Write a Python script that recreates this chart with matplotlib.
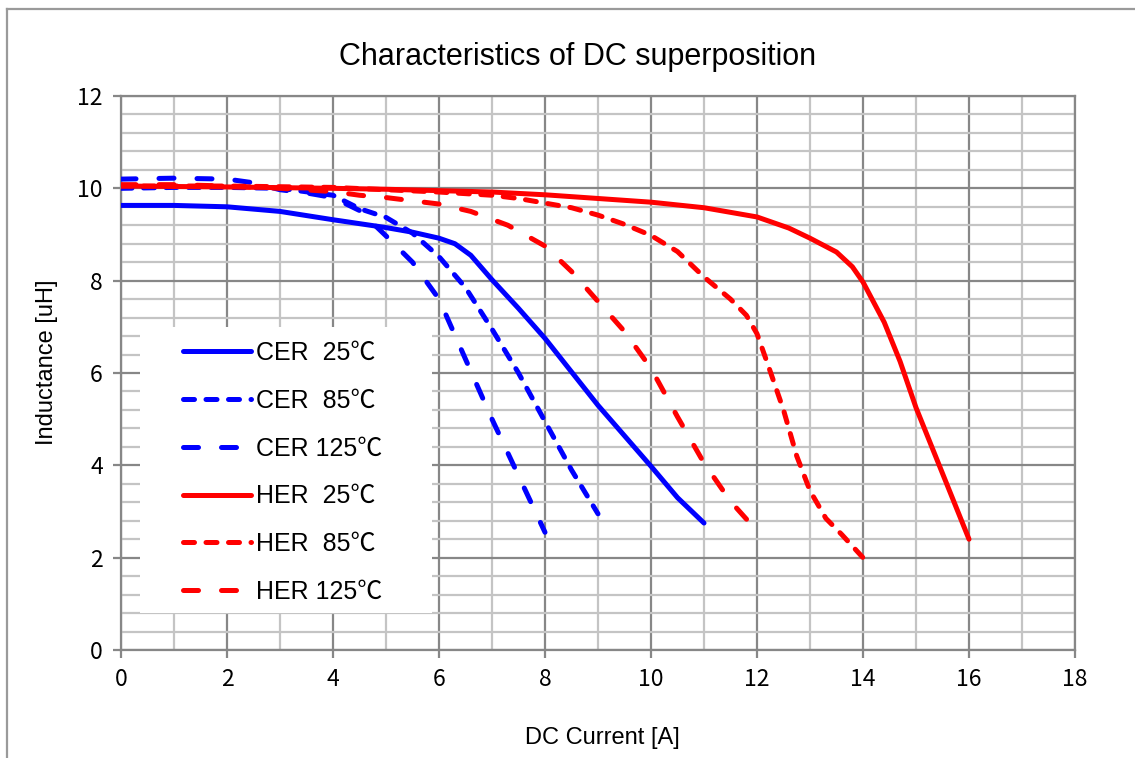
import matplotlib
matplotlib.use("Agg")
import matplotlib.pyplot as plt
from matplotlib.lines import Line2D
from matplotlib.patches import Rectangle
import numpy as np

# ---- data ----
cer25_x = [0, 1, 2, 3, 4, 5, 5.5, 6, 6.3, 6.6, 7, 7.5, 8, 9, 10, 10.5, 11]
cer25_y = [9.63, 9.63, 9.6, 9.5, 9.32, 9.15, 9.05, 8.92, 8.8, 8.55, 8.02, 7.4, 6.75, 5.3, 3.98, 3.3, 2.75]

cer85_x = [0, 1, 2, 3, 4, 4.5, 5, 5.5, 6, 6.5, 7, 7.5, 8, 8.5, 9]
cer85_y = [10.0, 10.02, 10.02, 10.0, 9.85, 9.56, 9.37, 9.03, 8.52, 7.85, 6.95, 6.0, 4.95, 3.9, 2.95]

cer125_x = [0, 1, 2, 2.5, 3, 3.5, 4, 4.5, 5, 5.5, 6, 7, 8]
cer125_y = [10.2, 10.22, 10.2, 10.12, 9.97, 9.9, 9.8, 9.52, 8.97, 8.4, 7.6, 5.0, 2.55]

her25_x = [0, 2, 4, 5, 6, 7, 8, 9, 10, 11, 12, 12.6, 13, 13.5, 13.8, 14, 14.4, 14.7, 15, 16]
her25_y = [10.05, 10.03, 10.0, 9.98, 9.95, 9.92, 9.86, 9.78, 9.7, 9.58, 9.38, 9.14, 8.92, 8.62, 8.3, 7.97, 7.1, 6.25, 5.25, 2.4]

her85_x = [0, 2, 4, 5, 6, 7, 7.5, 8, 8.5, 9, 9.5, 10, 10.5, 11, 11.5, 11.8, 12, 12.2, 12.5, 12.75, 13, 13.3, 13.6, 14]
her85_y = [10.05, 10.05, 10.02, 9.97, 9.92, 9.85, 9.78, 9.68, 9.58, 9.42, 9.22, 8.98, 8.63, 8.08, 7.6, 7.25, 6.85, 6.2, 5.2, 4.2, 3.45, 2.85, 2.5, 2.0]

her125_x = [0, 1, 2, 3, 4, 4.5, 5, 6, 6.6, 7.3, 8, 8.5, 9, 9.5, 10, 10.5, 11, 11.5, 12]
her125_y = [10.08, 10.08, 10.05, 10.0, 9.93, 9.85, 9.8, 9.66, 9.5, 9.2, 8.75, 8.2, 7.55, 6.9, 6.1, 5.05, 4.05, 3.22, 2.58]

labels = ["CER  25\u2103", "CER  85\u2103", "CER 125\u2103",
          "HER  25\u2103", "HER  85\u2103", "HER 125\u2103"]

x_ticks = [0, 2, 4, 6, 8, 10, 12, 14, 16, 18]
y_ticks = [0, 2, 4, 6, 8, 10, 12]

title = "Characteristics of DC superposition"
xlabel = "DC Current [A]"
ylabel = "Inductance [uH]"

# ---- styles ----
BLUE = "#0000ff"
RED = "#ff0000"
LW = 3.6
solid = None
short_dash = (2.2, 2.3)
long_dash = (3.0, 4.6)

series = [
    (cer25_x, cer25_y, BLUE, solid),
    (cer85_x, cer85_y, BLUE, short_dash),
    (cer125_x, cer125_y, BLUE, long_dash),
    (her25_x, her25_y, RED, solid),
    (her85_x, her85_y, RED, short_dash),
    (her125_x, her125_y, RED, long_dash),
]

TXT = ["Liberation Sans", "Noto Sans CJK JP", "DejaVu Sans"]
TICKF = "Noto Sans CJK JP"

fig = plt.figure(figsize=(11.35, 7.58), dpi=100)
ax = fig.add_axes([121/1135, 1-650/758, (1075-121)/1135, (650-96)/758])

ax.set_xlim(0, 18)
ax.set_ylim(0, 12)
ax.set_xticks(x_ticks)
ax.set_yticks(y_ticks)
ax.set_xticks(np.arange(0, 18.01, 1), minor=True)
ax.set_yticks(np.arange(0, 12.01, 0.4), minor=True)

MAJ = "#878787"
MIN = "#c4c4c4"
ax.grid(which="minor", color=MIN, lw=1.6, zorder=0)
ax.grid(which="major", color=MAJ, lw=1.6, zorder=0.5)
ax.set_axisbelow(True)
for s in ax.spines.values():
    s.set_color(MAJ)
    s.set_linewidth(1.6)
ax.tick_params(which="major", direction="out", length=6, width=1.6, color=MAJ, pad=7,
               labelsize=16.5, labelfontfamily=TICKF)
ax.tick_params(which="minor", length=0)

handles = []
for (xs, ys, c, d), lab in zip(series, labels):
    ln, = ax.plot(xs, ys, color=c, lw=LW, solid_capstyle="round", dash_capstyle="round",
                  solid_joinstyle="round", zorder=3, label=lab)
    if d is not None:
        ln.set_dashes(d)
    handles.append(ln)

# legend background
ax.add_patch(Rectangle(((140-121)/954, (650-613)/554), 292/954, 286/554,
                       transform=ax.transAxes, facecolor="white", edgecolor="none", zorder=2))
leg = ax.legend(handles=handles, loc="upper left",
                bbox_to_anchor=((183-121)/954, (650-341)/554),
                frameon=False, borderpad=0, borderaxespad=0,
                handlelength=2.72, handletextpad=0.2, labelspacing=0.95,
                prop={"family": TXT, "size": 18})
leg.set_zorder(4)

fig.text(578/1135, 1-57/758, title, ha="center", va="center", fontsize=22, family=TXT)
fig.text(602/1135, 1-738/758, xlabel, ha="center", va="center", fontsize=17, family=TXT)
fig.text(47/1135, 1-362/758, ylabel, ha="center", va="center", fontsize=17, family=TXT, rotation=90)

# outer chart frame (cropped at right/bottom)
fig.add_artist(Line2D([6.5/1135, 6.5/1135], [1-9/758, 0], transform=fig.transFigure, color="#9a9a9a", lw=1.6))
fig.add_artist(Line2D([6.5/1135, 1], [1-9/758, 1-9/758], transform=fig.transFigure, color="#9a9a9a", lw=1.6))

fig.savefig("out.png", dpi=100, facecolor="white")
